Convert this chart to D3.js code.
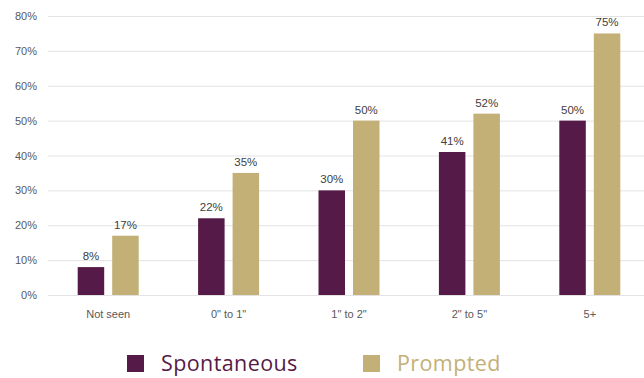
<!DOCTYPE html>
<html>
<head>
<meta charset="utf-8">
<script src="https://cdn.jsdelivr.net/npm/d3@7"></script>
<style>
  html, body { margin: 0; padding: 0; background: #fff; }
  svg { display: block; }
</style>
</head>
<body>
<svg id="chart" width="644" height="378"></svg>
<script>
// Share of respondents by time seen
const categories = ["Not seen", "0\" to 1\"", "1\" to 2\"", "2\" to 5\"", "5+"];
const seriesNames = ["Spontaneous", "Prompted"];
const spontaneous = [8, 22, 30, 41, 50];
const prompted = [17, 35, 50, 52, 75];
const yTicks = [0, 10, 20, 30, 40, 50, 60, 70, 80];

const colors = { Spontaneous: "#561a48", Prompted: "#c3b077" };
const values = { Spontaneous: spontaneous, Prompted: prompted };

const svg = d3.select("#chart");
const margin = { left: 48, right: -6, top: 16, bottom: 83 };
const W = 644, H = 378;

const x = d3.scaleBand().domain(categories).range([margin.left, W - margin.right]).padding(0);
const y = d3.scaleLinear().domain([0, 80]).range([H - margin.bottom, margin.top]);

const axisFont = "'Liberation Sans', Arial, sans-serif";

// gridlines
svg.append("g")
  .selectAll("line")
  .data(yTicks)
  .join("line")
  .attr("x1", margin.left)
  .attr("x2", W)
  .attr("y1", d => y(d) + 0.5)
  .attr("y2", d => y(d) + 0.5)
  .attr("stroke", "#e3e3e3")
  .attr("stroke-width", 1);

// y axis labels
const yAxis = d3.axisLeft(y).tickValues(yTicks).tickFormat(d => d + "%").tickSize(0).tickPadding(0);
const yg = svg.append("g").attr("transform", `translate(${margin.left - 11},0)`).call(yAxis);
yg.select(".domain").remove();
yg.selectAll("text").attr("font-family", axisFont).attr("font-size", 11).attr("fill", "#595959");

// x axis labels
const xAxis = d3.axisBottom(x).tickSize(0).tickPadding(0);
const xg = svg.append("g").attr("transform", `translate(0,${y(0) + 15})`).call(xAxis);
xg.select(".domain").remove();
xg.selectAll("text").attr("font-family", axisFont).attr("font-size", 11).attr("fill", "#595959");

// bars
const barW = 26.5, gap = 8;
const inner = d3.scaleOrdinal().domain(seriesNames).range([-(barW + gap / 2), gap / 2]);

seriesNames.forEach(s => {
  const g = svg.append("g");
  const data = categories.map((c, i) => ({ c, v: values[s][i] }));
  g.selectAll("rect")
    .data(data)
    .join("rect")
    .attr("x", d => x(d.c) + x.bandwidth() / 2 + inner(s))
    .attr("y", d => y(d.v))
    .attr("width", barW)
    .attr("height", d => y(0) - y(d.v))
    .attr("fill", colors[s]);
  g.selectAll("text")
    .data(data)
    .join("text")
    .attr("x", d => x(d.c) + x.bandwidth() / 2 + inner(s) + barW / 2)
    .attr("y", d => y(d.v) - 7)
    .attr("text-anchor", "middle")
    .attr("font-family", axisFont)
    .attr("font-size", 11.5)
    .attr("fill", "#404040")
    .text(d => d.v + "%");
});

// legend
const legendX = [127, 363];
const legend = svg.append("g");
seriesNames.forEach((s, i) => {
  legend.append("rect")
    .attr("x", legendX[i]).attr("y", 355)
    .attr("width", 17).attr("height", 17)
    .attr("fill", colors[s]);
  legend.append("text")
    .attr("x", legendX[i] + 34).attr("y", 371)
    .attr("font-family", "'Open Sans', sans-serif")
    .attr("font-weight", 500)
    .attr("font-size", 21.5)
    .attr("letter-spacing", 0.4)
    .attr("fill", colors[s])
    .text(s);
});
</script>
</body>
</html>
